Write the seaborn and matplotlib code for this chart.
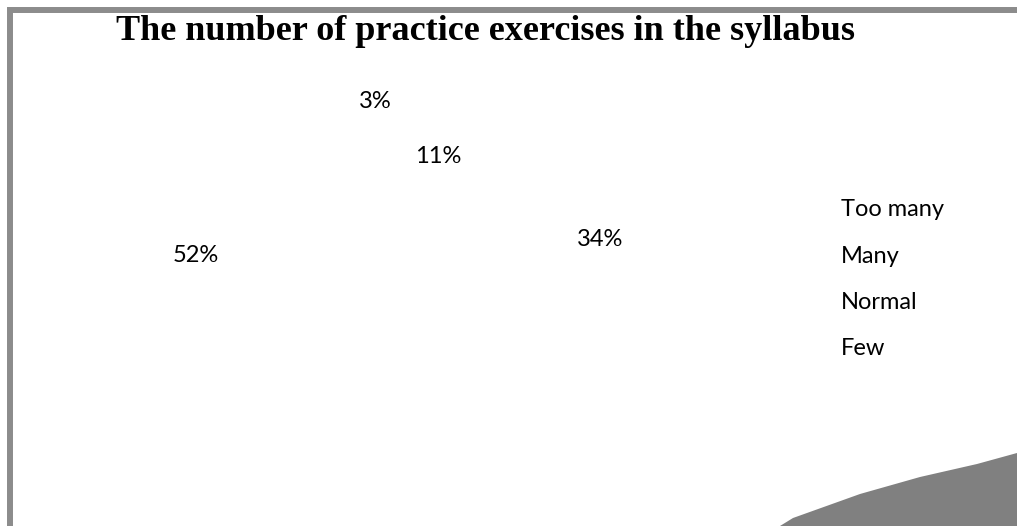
import matplotlib
matplotlib.use("Agg")
import matplotlib.pyplot as plt
import matplotlib.patches as mpatches
import seaborn as sns

sns.set_theme(style="white")
plt.rcParams['font.family'] = ['Lato', 'DejaVu Sans']
plt.rcParams['text.color'] = 'black'

# ---- data ----
categories = ["Too many", "Many", "Normal", "Few"]
values = [3, 11, 34, 52]
title = "The number of practice exercises in the syllabus"

# ---- layout (pixel positions of the percentage labels, from the reference) ----
W, H = 1017, 526
label_px = [(375, 102), (438, 157), (600, 240), (196, 255)]

fig = plt.figure(figsize=(W / 100, H / 100), dpi=100)
fig.patch.set_facecolor("white")

ax = fig.add_axes([0.08, 0.08, 0.6, 0.72])
wedges, texts, autotexts = ax.pie(
    values, labels=None, startangle=90, counterclock=False,
    colors=["white"] * len(values),
    wedgeprops=dict(edgecolor="white", linewidth=0),
    autopct=lambda p: f"{p:.0f}%",
    textprops=dict(fontsize=17, color="black"),
)
for t, (px, py) in zip(autotexts, label_px):
    t.set_transform(fig.transFigure)
    t.set_position((px / W, 1 - py / H))
    t.set_ha("center")
    t.set_va("center")

# legend: white handles -> text only
leg = fig.legend(wedges, categories, loc="upper left",
                 bbox_to_anchor=(777 / W, 1 - 178 / H), frameon=False,
                 fontsize=17, labelspacing=1.07, handlelength=1.0,
                 handletextpad=0.8, labelcolor="black")

# title
fig.text(485 / W, 1 - 32 / H, title, ha="center", va="center",
         fontsize=26, fontweight="bold", family="Liberation Serif",
         color="black")

# gray frame (left and top edges visible)
frame = mpatches.Rectangle((9.8 / W, -0.2), 1.5, 1.2 - 10.3 / H,
                           transform=fig.transFigure, fill=False,
                           edgecolor="#8c8c8c", linewidth=4.3)
fig.add_artist(frame)

# gray decorative corner shape at bottom-right
corner_px = [(780, 526), (793, 518), (860, 494), (920, 477), (977, 464),
             (1017, 453), (1017, 526)]
poly = mpatches.Polygon([(x / W, 1 - y / H) for x, y in corner_px],
                        closed=True, transform=fig.transFigure,
                        facecolor="#808080", edgecolor="none")
fig.add_artist(poly)

fig.savefig("out.png", dpi=100, facecolor="white")
